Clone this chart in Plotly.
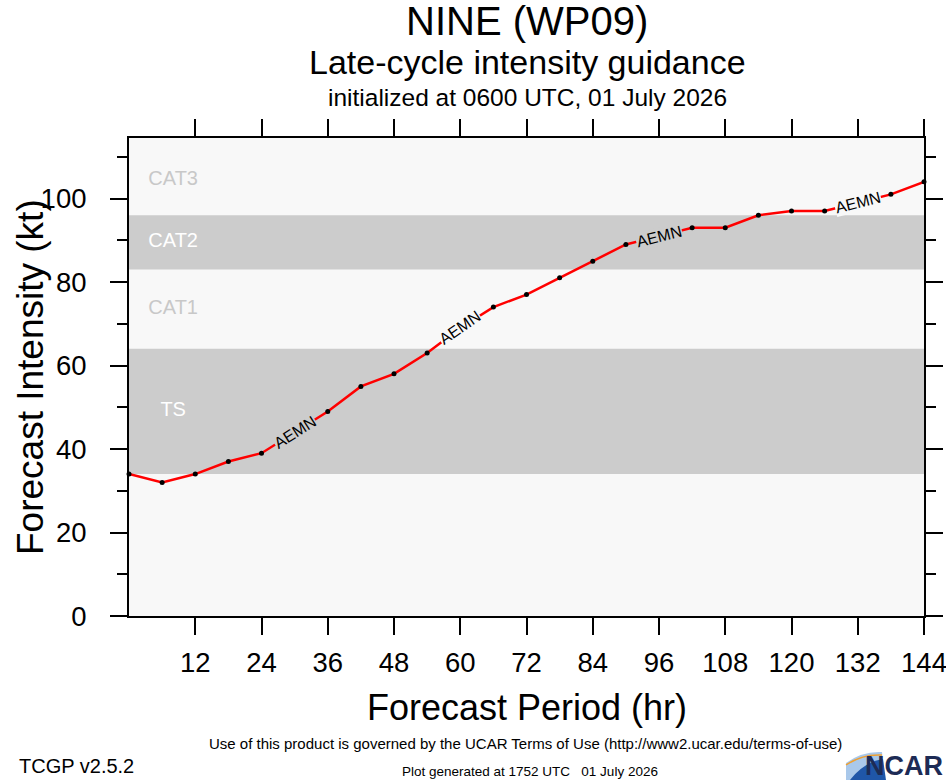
"""Intensidade prevista (late-cycle) para NINE (WP09) — recriação em Plotly."""

import math

import plotly.graph_objects as go

# --- dados -------------------------------------------------------------------
hours = [0, 6, 12, 18, 24, 30, 36, 42, 48, 54, 60, 66, 72,
         78, 84, 90, 96, 102, 108, 114, 120, 126, 132, 138, 144]
aemn_kt = [34, 32, 34, 37, 39, 44, 49, 55, 58, 63, 69, 74, 77,
           81, 85, 89, 91, 93, 93, 96, 97, 97, 99, 101, 104]
label_hours = [30, 60, 96, 132]  # onde o nome do modelo aparece na linha
model_name = "AEMN"

band_names = ["TS", "CAT1", "CAT2", "CAT3", "CAT4"]
band_lo = [34, 64, 83, 96, 113]
band_hi = [64, 83, 96, 113, 137]
band_shaded = [True, False, True, False, False]

x_ticks = [12, 24, 36, 48, 60, 72, 84, 96, 108, 120, 132, 144]
y_ticks = [0, 20, 40, 60, 80, 100]
y_minor = [10, 30, 50, 70, 90, 110]

# --- geometria ---------------------------------------------------------------
W, H = 946, 780
L, R, T, B = 129, 22, 138, 164
PW, PH = W - L - R, H - T - B
XR = [0, 144]
YR = [0, 114.5]
FONT = "Liberation Sans, Arial, Helvetica, sans-serif"
LIGHT, GRAY = "#f8f8f8", "#cccccc"


def pxx(x):  # pixel -> paper (x)
    return (x - L) / PW


def pxy(y):  # pixel -> paper (y)
    return (H - B - y) / PH


def path(pts, close=True):
    s = ""
    for i, p in enumerate(pts):
        if p[0] == "Q":
            s += f" Q{pxx(p[1]):.4f},{pxy(p[2]):.4f} {pxx(p[3]):.4f},{pxy(p[4]):.4f}"
        else:
            s += f" {'M' if i == 0 else 'L'}{pxx(p[0]):.4f},{pxy(p[1]):.4f}"
    return s + (" Z" if close else "")


fig = go.Figure()

# faixas de categoria
for lo, hi, sh in zip(band_lo, band_hi, band_shaded):
    if sh:
        fig.add_shape(type="rect", xref="x", yref="y", x0=hours[0], x1=hours[-1],
                      y0=lo, y1=hi, fillcolor=GRAY, line_width=0, layer="below")

# nomes das faixas (CAT4 fica quase todo fora do quadro, como no original)
lab_y = [min((lo + hi) / 2, YR[1] + 0.6) for lo, hi in zip(band_lo, band_hi)]
lab_c = ["white" if sh else "#c8c8c8" for sh in band_shaded]
fig.add_trace(go.Scatter(x=[8] * len(band_names), y=lab_y, mode="text", text=band_names,
                         textfont=dict(family=FONT, size=20, color=lab_c),
                         cliponaxis=True, hoverinfo="skip", showlegend=False))

fig.add_trace(go.Scatter(x=hours, y=aemn_kt, mode="lines+markers", name=model_name,
                         line=dict(color="#ff0000", width=2.5),
                         marker=dict(color="black", size=5),
                         cliponaxis=False, showlegend=False))

# rótulos do modelo ao longo da linha (inclinados conforme o segmento)
sx, sy = PW / (XR[1] - XR[0]), PH / (YR[1] - YR[0])
for h in label_hours:
    i = hours.index(h)
    dy = (aemn_kt[i + 1] - aemn_kt[i - 1]) * sy
    dx = (hours[i + 1] - hours[i - 1]) * sx
    ang = -math.degrees(math.atan2(dy, dx))
    v = aemn_kt[i]
    bg = LIGHT
    for lo, hi, sh in zip(band_lo, band_hi, band_shaded):
        if lo <= v < hi and sh:
            bg = GRAY
    fig.add_annotation(x=h, y=v, xref="x", yref="y", text=model_name, showarrow=False,
                       textangle=ang, bgcolor=bg, borderpad=0,
                       font=dict(family=FONT, size=16, color="black"))

axis = dict(showline=True, linewidth=2, linecolor="black", mirror="ticks",
            ticks="outside", ticklen=17, tickwidth=1.5, tickcolor="black",
            showgrid=False, zeroline=False, ticklabeloverflow="allow",
            tickfont=dict(family=FONT, size=27.5, color="black"))
fig.update_xaxes(range=XR, tickvals=x_ticks, ticklabelstandoff=4, **axis)
fig.update_yaxes(range=YR, tickvals=y_ticks, ticklabelstandoff=18,
                 minor=dict(tickvals=y_minor, ticks="outside", ticklen=10,
                            tickwidth=1.5, tickcolor="black"), **axis)

# títulos e rodapé
texts = [
    ("NINE (WP09)", 527, 21, 40, "center", 0),
    ("Late-cycle intensity guidance", 527, 62, 34, "center", 0),
    ("initialized at 0600 UTC, 01 July 2026", 527, 97, 24.5, "center", 0),
    ("Forecast Period (hr)", 527, 707, 36, "center", 0),
    ("Use of this product is governed by the UCAR Terms of Use (http://www2.ucar.edu/terms-of-use)",
     525, 743, 15, "center", 0),
    ("Plot generated at 1752 UTC\u00a0\u00a0\u00a001 July 2026", 530, 771, 13.5, "center", 0),
]
for txt, x, y, size, xa, ang in texts:
    fig.add_annotation(x=pxx(x), y=pxy(y), xref="paper", yref="paper", text=txt,
                       showarrow=False, xanchor=xa, yanchor="middle",
                       font=dict(family=FONT, size=size, color="black"))
fig.add_annotation(x=pxx(30), y=pxy(377), xref="paper", yref="paper",
                   text="Forecast Intensity (kt)", textangle=-90, showarrow=False,
                   xanchor="center", yanchor="middle",
                   font=dict(family=FONT, size=37, color="black"))
fig.add_annotation(x=pxx(17), y=pxy(766), xref="paper", yref="paper", text="TCGP v2.5.2",
                   showarrow=False, xanchor="left", yanchor="middle",
                   font=dict(family=FONT, size=20, color="black"))

# logo NCAR (aproximado)
fig.add_shape(type="path", xref="paper", yref="paper", line_width=0, fillcolor="#a9c8ea",
              path=path([(846, 763), ("Q", 862, 751, 882, 752), (885, 780), (846, 780)]))
fig.add_shape(type="path", xref="paper", yref="paper", line_width=0, fillcolor="#1f56a8",
              path=path([(850, 780), ("Q", 864, 762, 883, 759), (886, 780)]))
fig.add_shape(type="path", xref="paper", yref="paper", line=dict(color="#f0a030", width=1.5),
              path=path([(846, 765), ("Q", 862, 754, 882, 755)], close=False))
fig.add_annotation(x=pxx(945), y=pxy(766), xref="paper", yref="paper", text="<b>NCAR</b>",
                   showarrow=False, xanchor="right", yanchor="middle",
                   font=dict(family="Liberation Sans Narrow, " + FONT, size=27, color="#1d2b55"))

fig.update_layout(width=W, height=H, margin=dict(l=L, r=R, t=T, b=B, autoexpand=False),
                  paper_bgcolor="white", plot_bgcolor=LIGHT, showlegend=False,
                  font=dict(family=FONT, color="black"))

# a página padrão tem margem de 8px no body; zera para a figura ocupar a janela toda
fig.write_html("out.html", config={"displayModeBar": False},
               post_script="document.body.style.margin='0';")
